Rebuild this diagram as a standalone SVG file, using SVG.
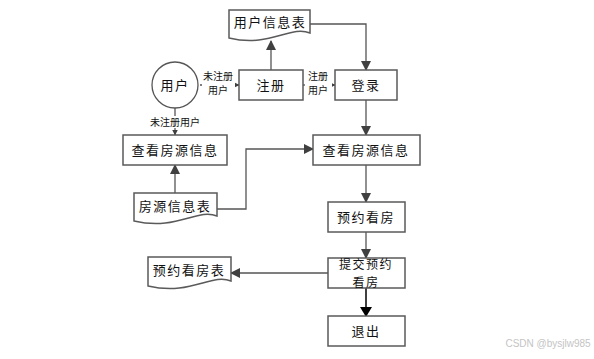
<svg xmlns="http://www.w3.org/2000/svg" width="594" height="359" viewBox="0 0 594 359">
<defs>
<marker id="ah" markerWidth="10" markerHeight="10" refX="9" refY="5" orient="auto" markerUnits="userSpaceOnUse">
<path d="M0,0 L10,5 L0,10 Z" fill="#404040"/>
</marker>
<marker id="ahs" markerWidth="6" markerHeight="6" refX="5.5" refY="3" orient="auto" markerUnits="userSpaceOnUse">
<path d="M0,0 L6,3 L0,6 Z" fill="#404040"/>
</marker>
<marker id="ahb" markerWidth="10" markerHeight="12" refX="9" refY="6" orient="auto" markerUnits="userSpaceOnUse">
<path d="M0,0 L10,6 L0,12 Z" fill="#000"/>
</marker>
</defs>
<style>
.box{fill:#fff;stroke:#5a5a5a;stroke-width:1.5}
.t{font-family:"Noto Sans CJK SC","Liberation Sans",sans-serif;font-size:13px;fill:#111;text-anchor:middle;letter-spacing:1.5px}
.t2{font-family:"Noto Sans CJK SC","Liberation Sans",sans-serif;font-size:12px;fill:#111;text-anchor:middle;letter-spacing:1.5px}
.l{font-family:"Noto Sans CJK SC","Liberation Sans",sans-serif;font-size:10px;fill:#111;text-anchor:middle}
.c{fill:none;stroke:#555;stroke-width:1.3}
</style>
<rect width="594" height="359" fill="#fff"/>
<g id="connectors">
<path class="c" d="M271,70 V41" marker-end="url(#ah)"/>
<path class="c" d="M310,24 H366 V70" marker-end="url(#ah)"/>
<path class="c" d="M200,85 H239" marker-end="url(#ahs)"/>
<path class="c" d="M303,85 H335" marker-end="url(#ahs)"/>
<path class="c" d="M175,108 V135" marker-end="url(#ahs)"/>
<path class="c" d="M366,100 V135" marker-end="url(#ah)"/>
<path class="c" d="M175,193 V165" marker-end="url(#ah)"/>
<path class="c" d="M217,209 H246 V149 H313" marker-end="url(#ah)"/>
<path class="c" d="M366,165 V202" marker-end="url(#ah)"/>
<path class="c" d="M366,232 V258" marker-end="url(#ah)"/>
<path class="c" d="M328,273 H231" marker-end="url(#ah)"/>
<path d="M366,288 V316" stroke="#000" stroke-width="1.5" fill="none" marker-end="url(#ahb)"/>
<rect x="202" y="70" width="33" height="28" fill="#fff"/>
<text class="l" x="218" y="80">未注册</text>
<text class="l" x="218" y="94">用户</text>
<rect x="305" y="70" width="27" height="28" fill="#fff"/>
<text class="l" x="318" y="80">注册</text>
<text class="l" x="318" y="94">用户</text>
<rect x="146" y="116" width="58" height="12" fill="#fff"/>
<text class="l" x="175" y="126">未注册用户</text>
</g>
<g id="user-table">
<path class="box" d="M229,10 H310 V33 C290,25 270,48 229,38 Z"/>
<text class="t" x="270" y="27">用户信息表</text>
</g>
<g id="user">
<circle cx="175" cy="85" r="23" fill="#fff" stroke="#555" stroke-width="1.3"/>
<text class="t" x="175" y="90">用户</text>
</g>
<g id="register">
<rect class="box" x="239" y="70" width="64" height="30"/>
<text class="t" x="271" y="90">注册</text>
</g>
<g id="login">
<rect class="box" x="335" y="70" width="62" height="30"/>
<text class="t" x="366" y="90">登录</text>
</g>
<g id="view-left">
<rect class="box" x="123" y="135" width="104" height="30"/>
<text class="t" x="175" y="155">查看房源信息</text>
</g>
<g id="view-right">
<rect class="box" x="313" y="135" width="107" height="30"/>
<text class="t" x="366" y="155">查看房源信息</text>
</g>
<g id="house-table">
<path class="box" d="M134,193 H217 V216 C197,208 177,231 134,221 Z"/>
<text class="t" x="175" y="211">房源信息表</text>
</g>
<g id="book">
<rect class="box" x="328" y="202" width="77" height="30"/>
<text class="t" x="366" y="222">预约看房</text>
</g>
<g id="submit">
<rect class="box" x="328" y="258" width="77" height="30"/>
<text class="t2" x="366" y="269">提交预约</text>
<text class="t2" x="366" y="287">看房</text>
</g>
<g id="book-table">
<path class="box" d="M148,257 H231 V281 C211,273 191,296 148,286 Z"/>
<text class="t" x="189" y="275">预约看房表</text>
</g>
<g id="exit">
<rect class="box" x="328" y="316" width="77" height="30"/>
<text class="t" x="366" y="336">退出</text>
</g>
<text x="548" y="347" font-family="Liberation Sans, sans-serif" font-size="10" fill="#c4c4c4" text-anchor="middle">CSDN @bysjlw985</text>
</svg>
